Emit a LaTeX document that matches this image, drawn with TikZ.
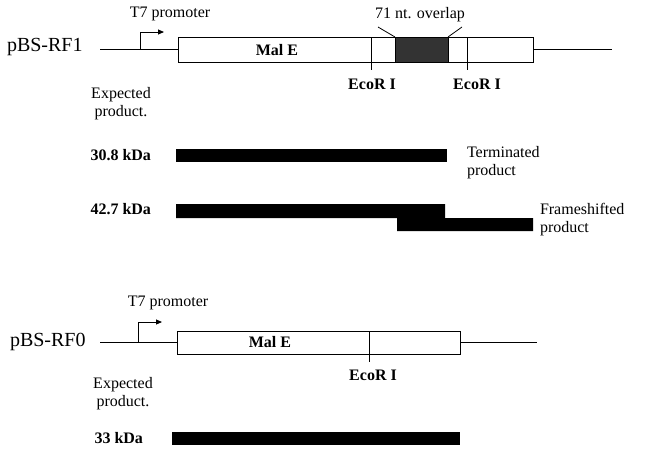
\documentclass[tikz,border=0pt]{standalone}
\usepackage{fontspec}
\setmainfont{Liberation Serif}
\usetikzlibrary{arrows.meta}
\begin{document}
\begin{tikzpicture}[x=1pt,y=-1pt,
  txt/.style={inner sep=0pt,outer sep=0pt,font=\fontsize{16}{18}\selectfont},
  btxt/.style={txt,font=\fontsize{16}{18}\selectfont\bfseries},
  big/.style={inner sep=0pt,outer sep=0pt,font=\fontsize{20}{22}\selectfont},
  gene/.style={draw,line width=0.9pt,fill=white,inner sep=0pt,outer sep=0pt},
  bar/.style={fill=black,inner sep=0pt,outer sep=0pt},
  dna/.style={line width=0.9pt},
  prom/.style={line width=0.9pt,-{Triangle[length=6pt,width=5pt]}},
  lead/.style={line width=0.8pt}]
\useasboundingbox (0,0) rectangle (654,456);

% ---------- pBS-RF1 ----------
\node[big,anchor=west] (n1) at (7,47) {pBS-RF1};
\coordinate (l1a) at (100,49.5);
\coordinate (l1b) at (612,49.5);
\node[gene,minimum width=355pt,minimum height=25pt] (box1) at (355.5,49.5) {};
\draw[dna] (l1a) -- (box1.west);
\draw[dna] (box1.east) -- (l1b);
\node[draw,line width=0.9pt,fill=black!80,minimum width=53pt,minimum height=25pt,inner sep=0pt,outer sep=0pt] (ov1) at (421.5,49.5) {};
\coordinate (p1) at (140,49.5);
\coordinate (p1t) at (140,32);
\coordinate (p1h) at (164,32);
\draw[prom] (p1) -- (p1t) -- (p1h);
\node[txt] (t71) at (170,14) {T7 promoter};
\node[txt] (ovl) at (420,15) {71 nt. overlap};
\coordinate (ld1a) at (378,27);
\coordinate (ld2a) at (462,27);
\draw[lead] (ld1a) -- (ov1.north west);
\draw[lead] (ld2a) -- (ov1.north east);
\node[btxt] (male1) at (277,50) {Mal E};
\coordinate (e1t) at (371,37);
\coordinate (e1b) at (371,70);
\coordinate (e2t) at (467,37);
\coordinate (e2b) at (467,70);
\draw[dna] (e1t) -- (e1b);
\draw[dna] (e2t) -- (e2b);
\node[btxt] (eco1) at (372,84) {EcoR I};
\node[btxt] (eco2) at (477,84) {EcoR I};
\node[txt,align=center] (exp1) at (121,104) {Expected\\product.};

% ---------- products ----------
\node[btxt,anchor=east] (k1) at (151,155) {30.8 kDa};
\node[bar,minimum width=271pt,minimum height=13pt] (b1) at (311.5,155.5) {};
\node[txt,align=left,anchor=west] (term) at (467,163) {Terminated\\product};

\node[btxt,anchor=east] (k2) at (151,209) {42.7 kDa};
\fill (176,204) coordinate (b2a) -- (445,204) -- (445,218) -- (533,218) -- (533,231)
  -- (397,231) -- (397,218) -- (176,218) -- cycle;
\node[txt,align=left,anchor=west] (fs) at (540,220) {Frameshifted\\product};

% ---------- pBS-RF0 ----------
\node[big,anchor=west] (n0) at (10,342) {pBS-RF0};
\coordinate (l0a) at (100,342.5);
\coordinate (l0b) at (537,342.5);
\node[gene,minimum width=283pt,minimum height=23pt] (box0) at (318.5,342.5) {};
\draw[dna] (l0a) -- (box0.west);
\draw[dna] (box0.east) -- (l0b);
\coordinate (p0) at (138,342.5);
\coordinate (p0t) at (138,322);
\coordinate (p0h) at (162,322);
\draw[prom] (p0) -- (p0t) -- (p0h);
\node[txt] (t70) at (168,303) {T7 promoter};
\node[btxt] (male0) at (270,342) {Mal E};
\coordinate (e0t) at (369,331);
\coordinate (e0b) at (369,362);
\draw[dna] (e0t) -- (e0b);
\node[btxt] (eco0) at (373,375) {EcoR I};
\node[txt,align=center] (exp0) at (123,394) {Expected\\product.};

\node[btxt,anchor=east] (k3) at (143,438) {33 kDa};
\node[bar,minimum width=288pt,minimum height=13pt] (b3) at (316,438.5) {};
\end{tikzpicture}
\end{document}
